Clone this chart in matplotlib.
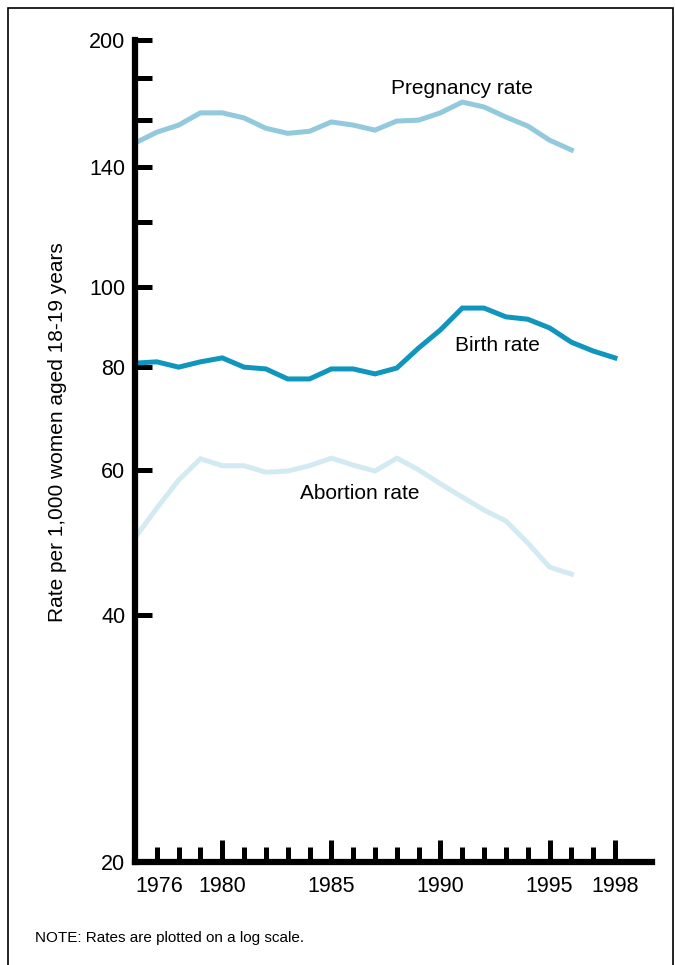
# teen pregnancy, birth and abortion rates, women 18-19, log scale

import matplotlib
matplotlib.use("Agg")
import matplotlib.pyplot as plt
from matplotlib.ticker import FixedLocator, NullFormatter, FixedFormatter
from matplotlib.patches import Rectangle

plt.rcParams['font.family'] = ['Liberation Sans', 'DejaVu Sans']

years = list(range(1976, 1999))
pregnancy = [149.9, 154.5, 157.6, 163.1, 163.1, 160.8, 156.2, 154.0, 154.9, 159.0,
             157.6, 155.4, 159.4, 159.8, 163.1, 168.1, 165.8, 161.2, 157.2, 151.1, 147.0]
births = [80.9, 81.2, 80.0, 81.2, 82.1, 80.0, 79.6, 77.4, 77.4, 79.6,
          79.6, 78.5, 79.8, 84.4, 88.8, 94.4, 94.4, 92.1, 91.5, 89.3, 85.8, 83.7, 82.1]
abortions = [49.6, 53.9, 58.3, 61.9, 60.7, 60.7, 59.6, 59.8, 60.7, 62.0,
             60.8, 59.8, 62.0, 60.0, 57.7, 55.6, 53.6, 52.0, 48.9, 45.7, 44.8]

y_major = [20, 40, 60, 80, 100, 140, 200]
y_minor = [120, 160, 180]
x_major = [1976, 1980, 1985, 1990, 1995, 1998]
x_minor = [y for y in years[1:] if y not in x_major]

fig = plt.figure(figsize=(6.75, 9.65), dpi=100)
ax = fig.add_axes([0.2, 0.1067, 0.766, 0.8518])

ax.plot(years[:len(pregnancy)], pregnancy, color='#92c9dd', lw=3.6, solid_joinstyle='miter')
ax.plot(years[:len(births)], births, color='#1096bc', lw=3.6, solid_joinstyle='miter')
ax.plot(years[:len(abortions)], abortions, color='#d4eaf2', lw=3.6, solid_joinstyle='miter')

ax.set_yscale('log')
ax.set_ylim(20, 200)
ax.set_xlim(1976, 1999.7)

ax.yaxis.set_major_locator(FixedLocator(y_major))
ax.yaxis.set_major_formatter(FixedFormatter([str(v) for v in y_major]))
ax.yaxis.set_minor_locator(FixedLocator(y_minor))
ax.yaxis.set_minor_formatter(NullFormatter())
ax.tick_params(axis='y', which='both', direction='in', length=12, width=3.6,
               labelsize=15.5, pad=7)

ax.xaxis.set_major_locator(FixedLocator(x_major))
ax.xaxis.set_major_formatter(FixedFormatter([str(v) for v in x_major]))
ax.xaxis.set_minor_locator(FixedLocator(x_minor))
ax.tick_params(axis='x', which='major', direction='in', length=16, width=3.6,
               labelsize=15.5, pad=10)
ax.tick_params(axis='x', which='minor', direction='in', length=11, width=3.6)
ax.get_xticklabels()[0].set_ha('left')

for s in ['top', 'right']:
    ax.spines[s].set_visible(False)
for s in ['left', 'bottom']:
    ax.spines[s].set_linewidth(4.5)
    ax.spines[s].set_capstyle('projecting')

ax.set_ylabel('Rate per 1,000 women aged 18-19 years', fontsize=15)
ax.yaxis.set_label_coords(-0.132, 0.523)

ax.text(1991.0, 174.8, 'Pregnancy rate', fontsize=15, ha='center', va='center')
ax.text(1992.6, 85.1, 'Birth rate', fontsize=15, ha='center', va='center')
ax.text(1986.3, 56.2, 'Abortion rate', fontsize=15, ha='center', va='center')

fig.text(35 / 675, 1 - 938 / 965, 'NOTE: Rates are plotted on a log scale.',
         fontsize=11, ha='left', va='center')

fig.patches.append(Rectangle((8 / 675, -0.01), 665 / 675, 1 - 8 / 965 + 0.01,
                             transform=fig.transFigure, fill=False,
                             edgecolor='black', lw=1.2))

fig.savefig('out.png', dpi=100)
